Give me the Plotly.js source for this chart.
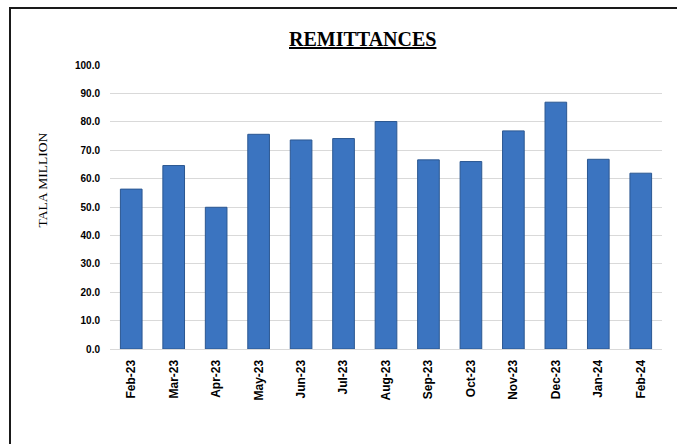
<!DOCTYPE html>
<html>
<head>
<meta charset="utf-8">
<script src="https://cdn.plot.ly/plotly-3.0.1.min.js"></script>
<style>
html,body{margin:0;padding:0;background:#fff;overflow:hidden;}
#wrap{position:relative;width:678px;height:444px;overflow:hidden;}
#chart{position:absolute;left:0;top:0;width:678px;height:444px;}
#frame{position:absolute;left:9px;top:7px;width:668px;height:437px;border-left:2px solid #1a1a1a;border-top:2px solid #1a1a1a;box-sizing:border-box;pointer-events:none;}
</style>
</head>
<body>
<div id="wrap"><div id="chart"></div><div id="frame"></div></div>
<script>
const months = ["Feb-23","Mar-23","Apr-23","May-23","Jun-23","Jul-23","Aug-23","Sep-23","Oct-23","Nov-23","Dec-23","Jan-24","Feb-24"];
const remittances = [56.3, 64.6, 49.9, 75.6, 73.6, 74.1, 80.1, 66.6, 66.0, 76.8, 86.9, 66.8, 61.9];
const yTicks = [0,10,20,30,40,50,60,70,80,90,100];
const yTickLabels = yTicks.map(v => v.toFixed(1));

const trace = {
  type: 'bar',
  x: months,
  y: remittances,
  marker: {color: '#3b74c0', line: {color: '#2b5791', width: 1}},
  width: 0.51,
  hoverinfo: 'x+y'
};

const layout = {
  width: 678, height: 444,
  margin: {l: 110, r: 16, t: 65, b: 95},
  paper_bgcolor: '#ffffff', plot_bgcolor: '#ffffff',
  showlegend: false,
  xaxis: {
    type: 'category',
    tickangle: -90,
    tickfont: {family: 'Liberation Sans, Arial, sans-serif', size: 12, color: '#000', weight: 'bold'},
    showgrid: false, showline: true, linecolor: '#d9d9d9', linewidth: 1,
    ticks: '', ticklabelstandoff: 5
  },
  yaxis: {
    range: [0, 100],
    tickvals: yTicks, ticktext: yTickLabels,
    tickfont: {family: 'Liberation Sans, Arial, sans-serif', size: 10, color: '#000', weight: 'bold'},
    showgrid: true, gridcolor: '#d9d9d9', gridwidth: 1,
    zeroline: false, showline: false, ticks: '', ticklabelstandoff: 9
  },
  annotations: [
    {text: '<b><u>REMITTANCES</u></b>', xref: 'paper', yref: 'paper',
     x: (362 - 110) / 552, y: (349.3 - 39) / 284.3, xanchor: 'center', yanchor: 'middle',
     showarrow: false, font: {family: 'Liberation Serif, DejaVu Serif, serif', size: 20, color: '#000'}},
    {text: 'TALA MILLION', xref: 'paper', yref: 'paper', textangle: -90,
     x: (42 - 110) / 552, y: (349.3 - 180.5) / 284.3, xanchor: 'center', yanchor: 'middle',
     showarrow: false, font: {family: 'Liberation Serif, DejaVu Serif, serif', size: 13.5, color: '#000'}}
  ]
};

Plotly.newPlot('chart', [trace], layout, {displayModeBar: false, staticPlot: true});
</script>
</body>
</html>
